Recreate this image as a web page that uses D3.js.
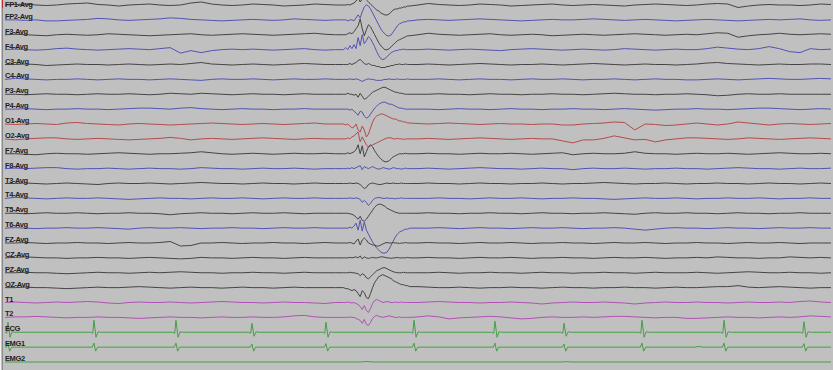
<!DOCTYPE html>
<html>
<head>
<meta charset="utf-8">
<script src="https://cdn.jsdelivr.net/npm/d3@7/dist/d3.min.js"></script>
<style>
  html, body { margin: 0; padding: 0; background: #c0c0c0; overflow: hidden; }
  text { font-family: "Liberation Sans", Arial, sans-serif; }
</style>
</head>
<body>
<div id="chart"></div>
<script>
// montage, top to bottom
var channels = ["FP1-Avg", "FP2-Avg", "F3-Avg", "F4-Avg", "C3-Avg", "C4-Avg", "P3-Avg", "P4-Avg",
  "O1-Avg", "O2-Avg", "F7-Avg", "F8-Avg", "T3-Avg", "T4-Avg", "T5-Avg", "T6-Avg",
  "FZ-Avg", "CZ-Avg", "PZ-Avg", "OZ-Avg", "T1", "T2", "ECG", "EMG1", "EMG2"];

// EEG samples (deflection, up = positive). each row: 0-4 s every 0.125 s (33),
// 4.1-4.9 s every 0.025 s (33), 5-10 s every 0.125 s (41)
var fp1 = [
  0, 0.5, 1, 0, -0.5, 0, 1, 1.5, 2, 0.5, 0, -1, 0, 0.5, 1, 0, -0.5, 0, 2, 3, 1, 0, -0.5, 0, 1, 0.5, 0, -1, -0.5, 0, 1, 0.5, 0,
  0, 0, 0.5, 0, 1, 2, 4, 7, 3, 6, 8, 5, 3, 1, -1, -3, -5, -6, -8, -9, -10, -10, -9, -7, -5, -4, -4, -3, -3, -2, -2, -1, -1,
  0, 1.5, 0.5, 0, -0.5, 0, 1, 0.5, 0, -1, -0.5, 0, 0.5, 1, 0, -0.5, 0, 0.5, 0, -0.5, -1, 0, 0.5, 1, 0.5, 0, -0.5, 0, 1, 1.5, 1, -2.5, -1, 0, 0.5, 0, 0, -0.5, 0, 1, 0.5];
var fp2 = [
  0, 0, -0.5, 0, -1, -1, -0.5, 0, 0.5, 1.5, 1, 0, -0.5, 0, 0.5, 1, 2, 1.5, 0.5, 0, -0.5, -1, -0.5, 0, 0.5, 0, -0.5, 0, 1, 0.5, 0, -0.5, 0,
  0, 0, -1, 0, 0, -1, 2, 5, 2, 8, 13, 15, 14, 11, 7, 3, -1, -5, -9, -12, -14, -16, -16, -15, -12, -9, -6, -4, -3, -2, -2, -1, -1,
  0, 0.5, 0, -0.5, 0, 0.5, 1, 0.5, 0, -0.5, -1, -0.5, 0, 0.5, 0, 0, 0.5, 1, 0.5, 0, -0.5, 0, 0.5, 0, -0.5, -1, -0.5, 0, 0.5, 0, -0.5, -1, -0.5, 0, 0.5, 0, 0.5, 1, 0, -0.5, 0];
var f3 = [
  0, 0.5, 0, -0.5, -1, 0, 0.5, 0, -0.5, 0, 1, 0.5, 0, -0.5, -1, -0.5, 0, 0.5, 1, 0, -0.5, 0, 0.5, 1, 0.5, 0, -0.5, 0, 0.5, 1, 1.5, 0.5, 0,
  0, 0, 1, 2, 1, 3, 6, 9, 16, 6, -1, 5, 10, 8, 4, 0, -4, -8, -11, -13, -15, -15, -14, -12, -10, -8, -6, -5, -4, -3, -2, -1, -1,
  0, 1.5, 0.5, 0, -0.5, 0, 0.5, 1, 0, -0.5, 0, 0.5, 0, -1, -0.5, 0, 0.5, 0, -0.5, 0, 0.5, 1, 0.5, 0, -0.5, 0, 0.5, 0, 1, 2, 1.5, -2.5, -1, 0, 0.5, 1.5, 0.5, 0, 0.5, 1, 0.5];
var f4 = [
  0, 0.5, 0, -0.5, 0, 1, 1.5, 0.5, 0, -0.5, 0, 0.5, 1, 0.5, 0, 1, 2, -3.5, -1, -3, -1, 0, 0.5, 0, 0.5, 0, -0.5, 0, 0.5, 1, 0, -0.5, 0,
  0, 2, 0, 4, 1, 5, 1, 12, 4, 15, 6, 9, 13, 11, 7, 3, -2, -6, -9, -10, -9, -7, -5, -3, -2, -1, -1, 0, 0, 0.5, 0, 0, 0,
  0, 0.5, 0, -0.5, 0, 0.5, 0, -0.5, -1, 0, 0.5, 1, 0.5, 0, -0.5, 0, 0.5, 0, -0.5, 0, 1, 0.5, 0, -0.5, 0, 0.5, 0, 0, 1, 2.5, 1.5, 0.5, 0, 1, 3, 1, -2, -3, 1, 0, 0.5];
var c3 = [
  0, 0, 0.5, 0, -1, -0.5, 0, 0.5, 0, 0, -0.5, 0, 0.5, 0, -0.5, 0, 0.5, 0, 1, 2, 0.5, 0, -0.5, 0, 0.5, 0, -0.5, 0, 0.5, 1, 0.5, 0, 0,
  0, 0, 0, 1, 0, 1, 2, 4, 5, 3, 1, 0, 1, 0, -1, -1, -2, -2, -3, -3, -3, -2, -2, -1, -1, 0, 0, 0.5, 0, 0, 0.5, 0, 0,
  0, 0.5, 0, -0.5, 0, 0.5, 1, 0.5, 0, -0.5, 0, 0, 0.5, 0, -0.5, 0, 0.5, 1, 0.5, 0, -0.5, 0, 0.5, 0, 0, -0.5, 0, 0.5, 1.5, 2, 1, 0.5, 0, -0.5, 0, 0.5, 0, 0, 0.5, 0.5, 0];
var c4 = [
  0, 1, 0.5, 0, -0.5, 0, 0, 0.5, 0, -0.5, 0, 0.5, 0, 0, -0.5, 0, 0.5, 0, -0.5, -1, 0, 0.5, 0, 0, 0.5, 0, -0.5, 0, 0.5, 0, 0, 0.5, 0,
  0, 0, 0, 0.5, 0, 0, 0.5, 0, -1, -2, -1, 0, 0.5, 0, 0, -0.5, -1, -1, -1, -0.5, 0, 0, 0.5, 0, 0, 0, 0.5, 0, 0, 0, 0, 0.5, 0,
  0, 0, 0.5, 0, -0.5, 0, 0.5, 0, 0, -0.5, 0, 0.5, 0, 0, 0.5, 0, -0.5, 0, 0, 0.5, 0, -0.5, 0, 0.5, 0, 0, -0.5, -0.5, 0, 0.5, 0, -0.5, 0, 0.5, 1, 0.5, 0, 0, 0.5, 1, 0.5];
var p3 = [
  0, 0, -0.5, 0, 0.5, 0, 0, -0.5, 0, 0.5, 0, 0, 0.5, 0, -0.5, 0, 1, 0.5, 0, 1, 0.5, 0, -0.5, 0, 0.5, 0, 0, -0.5, 0, 0.5, 0, 0, 0,
  0, 0, 1, 0, 0, -1, 0, -3, 1, -2, -5, -4, -2, 0, 2, 3, 4, 5, 6, 7, 7, 6, 5, 4, 3, 2, 2, 1, 1, 0.5, 0, 0, 0,
  0, 0, 0.5, 0, 0, -0.5, 0, 0.5, 0, 0, -0.5, 0, 0, 0.5, 0, 0, -0.5, 0, 0.5, 1, 0.5, 0, 0, -0.5, 0, 0, 0.5, 0, -0.5, -1.5, -1, 0, 0.5, 0, 0, 0.5, 0, 0, 0, 0, 0];
var p4 = [
  0, 0, 0.5, 0, -0.5, 0, 0, 0.5, 0, 0, -0.5, 0, 0.5, 1, 1, 0.5, 0, 1, 1.5, 0.5, 0, -0.5, 0, 0.5, 0, 0, -0.5, 0, 0, 0.5, 0, 0, 0,
  0, 0, 0, -1, 0, -2, -4, -6, -2, -3, -7, -9, -8, -5, -2, 1, 3, 5, 6, 7, 7, 6, 5, 5, 4, 3, 2, 1, 1, 0.5, 0, 0, 0,
  0, 0, -0.5, 0, 0.5, 0, 0, -0.5, 0, 0.5, 0, 0, -0.5, 0, 0, 0.5, 0, 0, -0.5, 0, 0.5, 0, -0.5, -1, -0.5, 0, 0, 0.5, 0, 0, -0.5, 0, 0.5, 1, 1, 0.5, 0, -0.5, 0, 0.5, 0];
var o1 = [
  0, -0.5, 0, 0.5, 0, -0.5, 1, 1.5, 0.5, 0, -0.5, -1, 0, 0.5, 0, -0.5, -1, -0.5, 0, 0.5, 1, 0.5, 0, -0.5, 0, 0.5, 0, -0.5, 0, 0.5, 1, 0, 0,
  0, -1, 0, -2, -4, -3, 0, -6, -8, -2, -6, -13, -10, -4, 2, 6, 8, 9, 10, 10, 9, 8, 7, 6, 5, 5, 4, 3, 3, 2, 2, 1, 1,
  0.5, 0, 0.5, 1, 0.5, 0, -0.5, 0, 0.5, 0, 0, -0.5, 0, 0, -1, -1, 0, 0.5, 1, 2, 1.5, -6, 0, -0.5, -1.5, -1, 0, 1, 0, -1, 0, 2, 1, 0, -1, 0, 0.5, 0, -0.5, 0, 0.5];
var o2 = [
  0, -1, 0, 0.5, 1, 1, 0, -0.5, 0, 0.5, 0, -0.5, -1, -0.5, 0, 0.5, 1.5, 0.5, -1, 0, 0.5, 0, -0.5, 0, 0.5, 1, 0.5, 0, -0.5, 0, 0.5, 0, 0,
  0, 0, 1, 0, 2, 3, 5, 7, -3, 2, -2, -6, -8, -7, -6, -5, -4, -3, -2, -1, 0, 1, 1, 1, 0, 0, 0.5, 0, 0, -0.5, 0, 0, 0,
  0, 0.5, 0, -0.5, 0, 0.5, 1, 0.5, 0, -0.5, 0, 0.5, 0, 0, -2, -4, -1, -1, 0.5, 3, 1, -1, -0.5, -3, -1, 0, 1, 1, 0.5, 0, -0.5, 0, 1, 0.5, 0, -0.5, 0, 0.5, 1, 0.5, 0];
var f7 = [
  0, 0, -0.5, -1, 0, 0.5, 0, 0, -0.5, 0, 0.5, 1, 0.5, 0, -0.5, 0, 0, 0.5, 1, 2, 1, 0, -0.5, 0, 0.5, 0, -0.5, 0, 0.5, 0, 0, 0.5, 0,
  0, 0, 1, 0, 1, 2, 4, 9, 0, 8, -3, 2, 7, 9, 7, 3, 0, -3, -5, -7, -8, -8, -7, -5, -3, -2, -1, 0, 0, 0, 0.5, 0, 0,
  0, 0.5, 0, 0, -0.5, 0, 0.5, 0, 0, 0.5, 0, -0.5, 0, 0.5, 1, -1, 0, 0.5, 0, 0, 0.5, 2, 0.5, 0, 0, -0.5, 0, 0.5, 0, 0, 0.5, 0, -0.5, 0, 0.5, 1, 0.5, 0, 0, 0.5, 0];
var f8 = [
  0, 0.5, 0, 0.5, 1, 1, 0, -0.5, 0, 0, 0.5, 0, -0.5, 0, 0.5, 0, 0, -0.5, 0, 1, 0.5, 0, 0, -0.5, 0, 0.5, 0, 0, 0.5, 0, -0.5, 0, 0,
  0, 0, 0.5, 0, 1, 0, 1, 2, 3, -1, 2, 1, 0, 1, 2, 1, 0, -0.5, 0, 1, 0.5, 0, -0.5, 0, 1, 0.5, 0, 0, -0.5, 0, 0.5, 0, 0,
  0, 0.5, 0, -0.5, 0, 0.5, 1, 0.5, 0, 0, -0.5, 0, 0.5, 0, 0, -1, 0, 0.5, 0, 0, 0.5, 0, -0.5, 0, 0, 0.5, 0, 0, -0.5, 0, 0.5, 1, 0.5, 0, 0, -0.5, 0, 0.5, 0, 0, 0.5];
var t3 = [
  0, 0, 0.5, 0, -0.5, 0, 0.5, 0, -0.5, -1, 0, 0.5, 0, 0, 0.5, 0, -0.5, 0, 0.5, 1, 0.5, 0, 0, -0.5, 0, 0.5, 0, 0, -0.5, 0, 0.5, 0, 0,
  0, 0, 0, 0.5, 0, 0, 0.5, 0, -1, -3, -5, -4, -1, 0, 0.5, 0, -0.5, -1, -1, -0.5, 0, 0.5, 0, 0, 0.5, 0, 0, 0, 0.5, 0, 0, 0, 0,
  0, 0.5, 0, 0, -0.5, 0, 0.5, 0, 0, -0.5, 0, 0, 0.5, 0, -0.5, 0, 0, 0.5, 1, 0.5, 0, -0.5, 0, 0, 0.5, 0, -0.5, 0, 0, 0.5, 0, 0, -0.5, 0, 0.5, 0, 0, -0.5, 0, 0.5, 0];
var t4 = [
  0, 1, 0.5, 0, -0.5, 0, 0.5, 0, 0, 0.5, 0, -0.5, -1, -0.5, 0, 0.5, 0, 0, -0.5, 0, 0.5, 0, 0, 0.5, 0, -0.5, 0, 0.5, 0, 0, 0.5, 0, 0,
  0, 0, 0, 0.5, 0, 0, 0.5, 0, -1, -4, -2, -4, -7, -5, -2, 0, 0.5, 1, 0.5, 0, 0, 0.5, 0, 0, 0, -0.5, 0, 0, 0.5, 0, 0, 0, 0,
  0, 0, 0.5, 0, 0, -0.5, 0, 0.5, 0, 0, 0.5, 0, -0.5, 0, 0, 0.5, 0, 0, -0.5, -1, -0.5, 0, 0.5, 0, 0, 0.5, 0, -0.5, 0, 0, 0.5, 0, 0, 0.5, 0, -0.5, 0, 0, 0.5, 0, 0];
var t5 = [
  0, 0, -0.5, 0, 0.5, 0, 0, 0.5, 0, -0.5, 0, 0, 0.5, 0, 0, -0.5, -1.5, -0.5, 0, 0.5, 0, 0, -0.5, 0, 0.5, 0, 0, 0.5, 0, -0.5, 0, 0, 0,
  0, 0, 0, -0.5, -1, -2, -4, -6, -3, -7, -8, -6, -3, 0, 3, 6, 8, 9, 9, 8, 7, 5, 4, 3, 2, 1, 0.5, 0, 0, 0, 0, 0, 0,
  0, 0.5, 0, 0, -0.5, 0, 0, 0.5, 0, 0, -0.5, 0, 0.5, 0, 0, -0.5, 0, 0, 0.5, 0, -0.5, -1, 0, 0.5, 0, 0, 0.5, 0, 0, -0.5, 0, 0.5, 0, 0, -0.5, 0, 0, 0.5, 0, 0, 0];
var t6 = [
  0, 0.5, 0, -0.5, 0, 0, 0.5, 0, 0, 0.5, 0, -0.5, -1, 0, 0.5, 0, 0, 0.5, 0, -0.5, 0, 0, 0.5, 0, 0, -0.5, 0, 0.5, 0, 0, 0.5, 0, 0,
  0, 0, 0, 1, 0, 2, 5, -2, 8, -3, 6, -2, -6, -10, -14, -17, -20, -22, -24, -25, -25, -24, -21, -17, -13, -9, -6, -4, -3, -2, -1, -1, 0,
  0, 0, 0.5, 0, -0.5, 0, 0.5, 0, 0, -0.5, 0, 0.5, 0, 0, 0.5, 0, -0.5, 0, 0, 0.5, 0, -1, -2, -1, 0, 0.5, 0, 0, -0.5, 0, 0.5, 0, 0, -0.5, 0, 0.5, 0, 0, 0.5, 0, 0];
var fz = [
  0, 0, 0.5, 0, -0.5, 0, 0, 0.5, 0, 0, -0.5, 0, 0.5, 0, 0, 0.5, 1.5, -3, -2.5, 0, 0, 0.5, 0, -0.5, 0, 0, 0.5, 0, 0, -0.5, 0, 0.5, 0,
  0, 0, 0, 0.5, 0, -1, 2, 4, -2, 3, 5, 3, 0, -1, -2, -2, -3, -3, -2, -1, 0, 0.5, 0, 0, 0.5, 0, 0, -0.5, 0, 0, 0.5, 0, 0,
  0, 0.5, 0, 0, -0.5, 0, 0.5, 0, 0, 0.5, 0, -0.5, 0, 0, 0.5, 0, 0, -0.5, 0, 0.5, 0, 0, 0.5, 0, -0.5, 0, 0, 0.5, 0, 0, -0.5, 0, 0.5, 0, 0, 0.5, 0, -0.5, 0, 0, 0];
var cz = [
  0, 0.5, 1, 0.5, 0, 0, -0.5, 0, 0, 0.5, 0, 0, -0.5, 0, 0.5, 0, -0.5, -1, -0.5, 0.5, 0, 0, -0.5, 0, 0.5, 0, 0, -0.5, 0, 0.5, 0, 0, 0,
  0, 0, 0, 0.5, 0, 0.5, 1, 0, 2, -1, 1, 0, -0.5, 0, 0.5, 0, 0, 0.5, 1, 1, 0.5, 0, 0, -0.5, 0, 0, 0.5, 0, 0, 0, 0, 0.5, 0,
  0, 0.5, 0, 0, -0.5, 0, 0.5, 0, 0, 0.5, 0, -0.5, 0, 0, 0.5, 0, 0, -0.5, 0, 0.5, 0, 0, 0.5, 0, -0.5, 0, 0, 0.5, 0, 1, 0.5, 0, 0, -0.5, 0, 0, 1, 0.5, 0, 0.5, 0];
var pz = [
  0, 0, 0.5, 0, 0, -0.5, -1, -0.5, 0, 0.5, 0, 0, -0.5, 0, 0.5, 0, 0.5, 1, 0.5, 0, 0, -0.5, 0, 0, 0.5, 0, 0, -0.5, 0, 0.5, 0, 0, 0,
  0, 0, 0, 0.5, 0, 0, -0.5, -1, -3, -1, -2, -5, -6, -4, -2, 0, 2, 3, 4, 5, 5, 4, 3, 2, 1, 0.5, 0, 0, 0, 0.5, 0, 0, 0,
  0, 0, 0.5, 0, -0.5, 0, 0, 0.5, 0, 0, -0.5, 0, 0.5, 0, 0, -0.5, 0, 0, 0.5, 0, 0, -0.5, 0, 0.5, 0, 0, 0, 0.5, 0, -0.5, 0, 0.5, 1, 0.5, 0, 0, 0.5, 0, 0, -0.5, 0];
var oz = [
  0, 0, 0.5, 0, 0, -0.5, -1, -0.5, 0, 0.5, 0, 0, 0.5, 1, 0.5, 0, -0.5, 0, 0.5, 0, 0, -0.5, 0, 0.5, 0, 0, -0.5, 0, 0.5, 0, 0, 0, 0,
  0, -1, -1, -2, -3, -2, -3, -6, -9, -3, -5, -10, -11, -6, 0, 5, 8, 11, 12, 13, 12, 11, 10, 9, 7, 6, 5, 4, 3, 3, 2, 2, 1,
  1, 0.5, 0, 0, 0.5, 0, -0.5, 0, 0, 0.5, 0, 0, -0.5, 0, 0.5, 0, 0, -0.5, 0, 0, 0.5, 0, 0, -0.5, 0, 0.5, 0, 0, 0.5, 1, 1, 2, 0.5, 0, 0.5, 1, 0.5, 0, -0.5, 0, 0];
var t1 = [
  0, 0.5, 0, -0.5, 0, 0.5, 0, 0.5, 1, 0.5, -0.5, -1, 0, 0.5, 0, 0, 0.5, 0, -0.5, 0, 0.5, 1, 0.5, 0, 0, -0.5, 0, 0.5, 0, 0, -0.5, -1, 0,
  0, 0, 0.5, 0, -0.5, 0, -1, -2, -4, -7, -3, -8, -10, -6, -1, 2, 3, 2, 1, 0, 0.5, 1, 0.5, 0, 0, 0.5, 0, 0, 0.5, 0, 0, 0, 0,
  0, 0.5, 1, 0.5, 0, 0, -0.5, 0, 0, 0.5, 0, -0.5, -1.5, -0.5, 0, 0.5, 0, 0, 0.5, 0, -0.5, -1.5, -0.5, 0, 0.5, 0, 0, 0.5, 0, 0, -0.5, 0, 0.5, 0, 0, 0.5, 0, 1, 1.5, 0.5, 0];
var t2 = [
  0, 0.5, 0.5, 1, 0.5, 0, -0.5, 0, 0, 0.5, 0, 0, -0.5, -1, -0.5, 0, 0.5, 0, 0, -0.5, 0, 0.5, 0, 0, 0.5, 0, 0, 0.5, 1.5, 2, 0.5, 0, 0,
  0, 0, 0, 0.5, 0, 0, -1, -2, -3, -6, -2, -7, -8, -5, -1, 1, 2, 1, 0.5, 0, 0.5, 1, 1.5, 1, 0.5, 0, 0, 0.5, 0, 0, 0, 0, 0,
  0.5, 1.5, 0.5, -1.5, -0.5, 0, 0.5, 1, 0.5, -0.5, -1.5, -1, 0, 0.5, 0, 0, 0.5, 0, 0.5, 1, 1, 0.5, 0, -0.5, 0, 0, -1, -1, -0.5, 0, 0.5, 0, 0, -0.5, 0, 0.5, 0, 0.5, 1.5, 1, 0.5];

// polygraphy channels as [time s, deflection]
var ecg = [
  [0, 0], [0.021, -1], [0.036, 10], [0.061, -5], [0.086, 0.5], [0.116, 0],
  [1.037, 0], [1.062, -1], [1.077, 12], [1.102, -5], [1.127, 0.5], [1.157, 0],
  [2.030, 0], [2.055, -1], [2.070, 12], [2.095, -5], [2.120, 0.5], [2.150, 0],
  [2.950, 0], [2.975, -1], [2.990, 9], [3.015, -4], [3.040, 0.5], [3.070, 0],
  [3.846, 0], [3.871, -1], [3.886, 10], [3.911, -5], [3.936, 0.5], [3.966, 0],
  [4.912, 0], [4.937, -1], [4.952, 12], [4.977, -5], [5.002, 0.5], [5.032, 0],
  [5.892, 0], [5.917, -1], [5.932, 11], [5.957, -5], [5.982, 0.5], [6.012, 0],
  [6.728, 0], [6.753, -1], [6.768, 9], [6.793, -4], [6.818, 0.5], [6.848, 0],
  [7.672, 0], [7.697, -1], [7.712, 12], [7.737, -5], [7.762, 0.5], [7.792, 0],
  [8.665, 0], [8.690, -1], [8.705, 12], [8.730, -5], [8.755, 0.5], [8.785, 0],
  [9.633, 0], [9.658, -1], [9.673, 10.5], [9.698, -5], [9.723, 0.5], [9.753, 0],
  [10, 0]];
var emg1 = [
  [0, 0], [0.016, 0], [0.036, 4], [0.056, -4], [0.081, 0],
  [1.057, 0], [1.077, 4], [1.097, -4], [1.122, 0],
  [2.050, 0], [2.070, 4], [2.090, -4], [2.115, 0],
  [2.970, 0], [2.990, 3], [3.010, -4], [3.035, 0],
  [3.866, 0], [3.886, 3.5], [3.906, -4], [3.931, 0],
  [4.932, 0], [4.952, 4], [4.972, -4], [4.997, 0],
  [5.912, 0], [5.932, 4], [5.952, -4], [5.977, 0],
  [6.748, 0], [6.768, 3], [6.788, -4], [6.813, 0],
  [7.692, 0], [7.712, 4], [7.732, -4], [7.757, 0],
  [8.35, 0], [8.40, 0.7], [8.45, 0],
  [8.685, 0], [8.705, 4], [8.725, -4], [8.750, 0],
  [9.653, 0], [9.673, 3.5], [9.693, -4], [9.718, 0],
  [10, 0]];
var emg2 = [[0, 0], [4.3, 0], [4.38, 0.5], [4.46, 0], [6.75, 0], [6.8, 0.4], [6.85, 0], [10, 0]];

var eegTraces = [fp1, fp2, f3, f4, c3, c4, p3, p4, o1, o2, f7, f8, t3, t4, t5, t6, fz, cz, pz, oz, t1, t2];

// sample clock for the EEG rows
var sampleTimes = d3.range(33).map(function(i){ return i * 0.125; })
  .concat(d3.range(33).map(function(j){ return 4.1 + j * 0.025; }))
  .concat(d3.range(41).map(function(k){ return 5 + k * 0.125; }));

var traceColor = ["#444444", "#5252b4", "#444444", "#5252b4", "#444444", "#5252b4", "#444444", "#5252b4",
  "#b44c4c", "#b44c4c", "#444444", "#5252b4", "#444444", "#5252b4", "#444444", "#5252b4",
  "#444444", "#444444", "#444444", "#444444", "#b050b6", "#b050b6", "#44a044", "#44a044", "#44a044"];

var width = 833, height = 370;

var svg = d3.select("#chart").append("svg")
    .attr("width", width)
    .attr("height", height);

svg.append("rect")
    .attr("width", width)
    .attr("height", height)
    .attr("fill", "#c0c0c0");

var x = d3.scaleLinear().domain([0, 10]).range([5, 831]);
var row = d3.scalePoint().domain(channels).range([5, 362]);
var amp = d3.scaleLinear().domain([-10, 10]).range([10, -10]);

var series = eegTraces.map(function(vals, i){
  if (vals.length !== sampleTimes.length) console.warn(channels[i], vals.length);
  return vals.map(function(v, n){ return [sampleTimes[n], v]; });
}).concat([ecg, emg1, emg2]);

var line = d3.line()
    .x(function(d){ return x(d[0]); })
    .y(function(d){ return amp(d[1]); });

var rows = svg.selectAll("g.trace")
    .data(channels)
    .enter()
    .append("g")
    .attr("class", "trace")
    .attr("transform", function(d){ return "translate(0," + row(d) + ")"; });

rows.append("path")
    .attr("d", function(d, i){ return line(series[i]); })
    .attr("fill", "none")
    .attr("stroke", function(d, i){ return traceColor[i]; })
    .attr("stroke-width", 1)
    .attr("stroke-linejoin", "round");

// labels sit just above their trace; the top one is nudged down to stay on screen
rows.append("text")
    .attr("x", 5)
    .attr("y", function(d, i){ return i === 0 ? 1.5 : -1; })
    .attr("font-size", "7.5px")
    .attr("font-weight", "bold")
    .attr("letter-spacing", "-0.4px")
    .attr("fill", "#1e1e1e")
    .text(function(d){ return d; });

// window frame on the left edge
svg.append("line").attr("x1", 0.5).attr("x2", 0.5).attr("y1", 0).attr("y2", height)
    .attr("stroke", "#f2f2f2");
svg.append("line").attr("x1", 2.5).attr("x2", 2.5).attr("y1", 0).attr("y2", height)
    .attr("stroke", "#8a8a8a");
svg.append("line").attr("x1", 2.5).attr("x2", 2.5).attr("y1", 0).attr("y2", 8)
    .attr("stroke", "#c03030");
</script>
</body>
</html>
